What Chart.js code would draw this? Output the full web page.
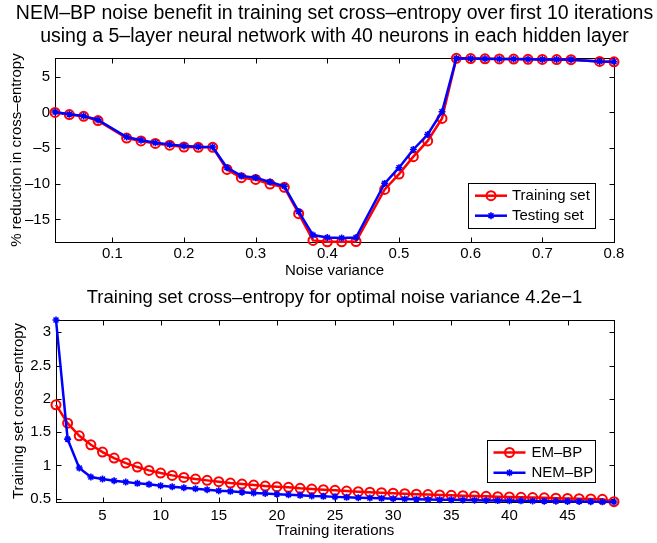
<!DOCTYPE html>
<html><head><meta charset="utf-8">
<script src="https://cdn.jsdelivr.net/npm/chart.js@4.4.1/dist/chart.umd.min.js"></script>
<style>
html,body{margin:0;padding:0;background:#fff;width:657px;height:543px;overflow:hidden}
canvas{position:absolute;left:0}
#c1{top:0}#c2{top:280px}
</style></head><body>
<canvas id="c1" width="657" height="280"></canvas>
<canvas id="c2" width="657" height="263"></canvas>
<script>
// ---------- data: top panel ----------
const noiseVariance = [0.02,0.04,0.06,0.08,0.12,0.14,0.16,0.18,0.20,0.22,0.24,0.26,0.28,0.30,0.32,0.34,0.36,0.38,0.40,0.42,0.44,0.48,0.50,0.52,0.54,0.56,0.58,0.60,0.62,0.64,0.66,0.68,0.70,0.72,0.74,0.78,0.80];
const trainingSet = [0.0,-0.3,-0.55,-1.15,-3.6,-4.0,-4.35,-4.6,-4.85,-4.9,-4.9,-8.0,-9.15,-9.4,-10.05,-10.5,-14.2,-17.95,-18.15,-18.15,-18.1,-10.8,-8.65,-6.2,-4.0,-0.85,7.58,7.55,7.52,7.5,7.48,7.45,7.43,7.41,7.4,7.15,7.1];
const testingSet  = [0.05,-0.25,-0.5,-1.05,-3.45,-3.9,-4.25,-4.5,-4.7,-4.8,-4.85,-7.75,-8.9,-9.15,-9.75,-10.35,-13.9,-17.2,-17.55,-17.6,-17.55,-9.95,-7.75,-5.2,-3.1,0.1,7.58,7.55,7.52,7.5,7.48,7.45,7.43,7.41,7.4,7.15,7.1];
const noiseTicks = [0.1,0.2,0.3,0.4,0.5,0.6,0.7,0.8];
const reductionTicks = [-15,-10,-5,0,5];

// ---------- data: bottom panel ----------
const iterations = [1,2,3,4,5,6,7,8,9,10,11,12,13,14,15,16,17,18,19,20,21,22,23,24,25,26,27,28,29,30,31,32,33,34,35,36,37,38,39,40,41,42,43,44,45,46,47,48,49];
const emBP  = [1.91,1.635,1.445,1.31,1.2,1.11,1.035,0.975,0.925,0.885,0.85,0.82,0.795,0.775,0.755,0.735,0.72,0.705,0.69,0.68,0.67,0.655,0.645,0.635,0.625,0.615,0.605,0.597,0.59,0.582,0.575,0.568,0.562,0.556,0.55,0.545,0.54,0.535,0.53,0.525,0.52,0.516,0.512,0.508,0.504,0.5,0.496,0.49,0.455];
const nemBP = [3.185,1.395,0.96,0.825,0.795,0.77,0.75,0.73,0.715,0.695,0.68,0.665,0.65,0.635,0.62,0.61,0.598,0.587,0.578,0.568,0.56,0.55,0.54,0.535,0.527,0.52,0.515,0.51,0.505,0.5,0.496,0.492,0.488,0.485,0.482,0.479,0.476,0.473,0.471,0.469,0.467,0.465,0.463,0.461,0.459,0.457,0.455,0.453,0.45];
const iterTicks = [5,10,15,20,25,30,35,40,45];
const entropyTicks = [0.5,1,1.5,2,2.5,3];

// ---------- styling / helpers ----------
const FONT = '"Liberation Sans", Arial, Helvetica, sans-serif';
Chart.defaults.font.family = FONT;
Chart.defaults.color = '#000';
const fmt = v => (v < 0 ? '\u2013' + Math.abs(v) : String(v));
const pairs = (xs, ys) => xs.map((x, i) => ({x: x, y: ys[i]}));

const boxPlugin = {
  id: 'matBox',
  beforeDatasetsDraw(chart) {
    const {ctx, chartArea: a, scales} = chart;
    const L = Math.round(a.left) + 0.5, R = Math.round(a.right) + 0.5;
    const T = Math.round(a.top) + 0.5, B = Math.round(a.bottom) + 0.5;
    const tl = 5;
    ctx.save();
    ctx.strokeStyle = '#000'; ctx.lineWidth = 1;
    ctx.beginPath();
    scales.x.ticks.forEach(t => {
      const p = Math.round(scales.x.getPixelForValue(t.value)) + 0.5;
      ctx.moveTo(p, B); ctx.lineTo(p, B - tl);
      ctx.moveTo(p, T); ctx.lineTo(p, T + tl);
    });
    scales.y.ticks.forEach(t => {
      const p = Math.round(scales.y.getPixelForValue(t.value)) + 0.5;
      ctx.moveTo(L, p); ctx.lineTo(L + tl, p);
      ctx.moveTo(R, p); ctx.lineTo(R - tl, p);
    });
    ctx.stroke();
    ctx.strokeRect(L, T, R - L, B - T);
    ctx.restore();
  }
};

const legendPlugin = {
  id: 'matLegend',
  afterDatasetsDraw(chart, args, o) {
    const {ctx} = chart;
    const b = o.box;
    ctx.save();
    ctx.fillStyle = '#fff';
    ctx.fillRect(b.left, b.top, b.right - b.left, b.bottom - b.top);
    ctx.strokeStyle = '#000'; ctx.lineWidth = 1;
    ctx.strokeRect(b.left + 0.5, b.top + 0.5, b.right - b.left, b.bottom - b.top);
    chart.data.datasets.forEach((ds, i) => {
      const y = o.rows[i];
      const x0 = b.left + o.lineStart, x1 = x0 + o.lineLen;
      ctx.strokeStyle = ds.borderColor; ctx.lineWidth = ds.borderWidth;
      ctx.beginPath(); ctx.moveTo(x0, y); ctx.lineTo(x1, y); ctx.stroke();
      ctx.fillStyle = ds.pointBackgroundColor;
      ctx.strokeStyle = ds.pointBorderColor;
      ctx.lineWidth = ds.pointBorderWidth;
      Chart.helpers.drawPoint(ctx, {pointStyle: ds.pointStyle, rotation: 0, radius: ds.pointRadius, borderWidth: ds.pointBorderWidth}, (x0 + x1) / 2, y);
      ctx.fillStyle = '#000';
      ctx.font = o.font + 'px ' + FONT;
      ctx.textBaseline = 'middle'; ctx.textAlign = 'left';
      ctx.fillText(ds.label, x1 + o.gap, y + 0.5);
    });
    ctx.restore();
  }
};

function redSet(label, data) {
  return {label, data, borderColor: '#ff0000', borderWidth: 2.5, pointStyle: 'circle', pointRadius: 4.5,
    pointBorderWidth: 2, pointBorderColor: '#ff0000', pointBackgroundColor: 'rgba(0,0,0,0)',
    pointHoverRadius: 4.5, clip: false, order: 1, tension: 0};
}
function blueSet(label, data) {
  return {label, data, borderColor: '#0000ff', borderWidth: 2.5, pointStyle: 'star', pointRadius: 3.5,
    pointBorderWidth: 1.6, pointBorderColor: '#0000ff', pointBackgroundColor: '#0000ff',
    pointHoverRadius: 3.5, clip: false, order: 0, tension: 0};
}

function axisX(min, max, tickArr, title, height, tickPad, titlePad) {
  return {type: 'linear', min, max,
    afterBuildTicks: s => { s.ticks = tickArr.map(v => ({value: v})); },
    afterFit: s => { s.height = height; },
    grid: {display: false, drawTicks: false}, border: {display: false},
    ticks: {font: {size: 15}, padding: tickPad, maxRotation: 0, autoSkip: false, callback: v => fmt(v)},
    title: {display: true, text: title, font: {size: 15}, padding: {top: 0, bottom: titlePad}}};
}
function axisY(min, max, tickArr, title, width, titlePad) {
  return {type: 'linear', min, max,
    afterBuildTicks: s => { s.ticks = tickArr.map(v => ({value: v})); },
    afterFit: s => { s.width = width; },
    grid: {display: false, drawTicks: false}, border: {display: false},
    ticks: {font: {size: 15}, padding: 5, autoSkip: false, callback: v => fmt(v)},
    title: {display: true, text: title, font: {size: 15}, padding: {top: titlePad, bottom: 0}}};
}
// empty right-hand spacer so the chart area ends where the reference's does
function spacerRight(width) {
  return {type: 'linear', position: 'right', min: 0, max: 1, display: true,
    afterFit: s => { s.width = width; },
    grid: {display: false, drawTicks: false}, border: {display: false},
    ticks: {display: false}, title: {display: false}};
}

const common = {responsive: false, animation: false, devicePixelRatio: 1, events: []};

new Chart(document.getElementById('c1'), {
  type: 'line',
  data: {datasets: [redSet('Training set', pairs(noiseVariance, trainingSet)),
                    blueSet('Testing set', pairs(noiseVariance, testingSet))]},
  options: Object.assign({}, common, {
    layout: {padding: {left: 12, right: 0, top: 0, bottom: 0}},
    plugins: {
      legend: {display: false}, tooltip: {enabled: false},
      title: {display: true, fullSize: true, color: '#000',
        text: ['NEM\u2013BP noise benefit in training set cross\u2013entropy over first 10 iterations',
               'using a 5\u2013layer neural network with 40 neurons in each hidden layer'],
        font: {size: 19.5, weight: 'normal', lineHeight: '23px'}, padding: {top: 2.5, bottom: 9.5}},
      matLegend: {box: {left: 468, top: 183, right: 595, bottom: 228}, rows: [195.7, 215.7],
        lineStart: 7, lineLen: 32, gap: 5, font: 15}
    },
    scales: {
      x: axisX(0.02, 0.8, noiseTicks, 'Noise variance', 38, 2.8, 0.5),
      y: axisY(-18.17, 7.63, reductionTicks, '% reduction in cross\u2013entropy', 43, -4.5),
      pad: spacerRight(43)
    }
  }),
  plugins: [boxPlugin, legendPlugin]
});

new Chart(document.getElementById('c2'), {
  type: 'line',
  data: {datasets: [redSet('EM\u2013BP', pairs(iterations, emBP)),
                    blueSet('NEM\u2013BP', pairs(iterations, nemBP))]},
  options: Object.assign({}, common, {
    layout: {padding: {left: 12, right: 0, top: 0, bottom: 0}},
    plugins: {
      legend: {display: false}, tooltip: {enabled: false},
      title: {display: true, fullSize: true, color: '#000',
        text: 'Training set cross\u2013entropy for optimal noise variance 4.2e\u22121',
        font: {size: 18.5, weight: 'normal', lineHeight: '23px'}, padding: {top: 6.5, bottom: 10.5}},
      matLegend: {box: {left: 487, top: 160, right: 595, bottom: 202}, rows: [172.5, 192.8],
        lineStart: 6.5, lineLen: 32, gap: 6, font: 15}
    },
    scales: {
      x: axisX(1, 49, iterTicks, 'Training iterations', 41, 4.4, 3.5),
      y: axisY(0.45, 3.185, entropyTicks, 'Training set cross\u2013entropy', 44, -2),
      pad: spacerRight(43)
    }
  }),
  plugins: [boxPlugin, legendPlugin]
});
</script>
</body></html>
